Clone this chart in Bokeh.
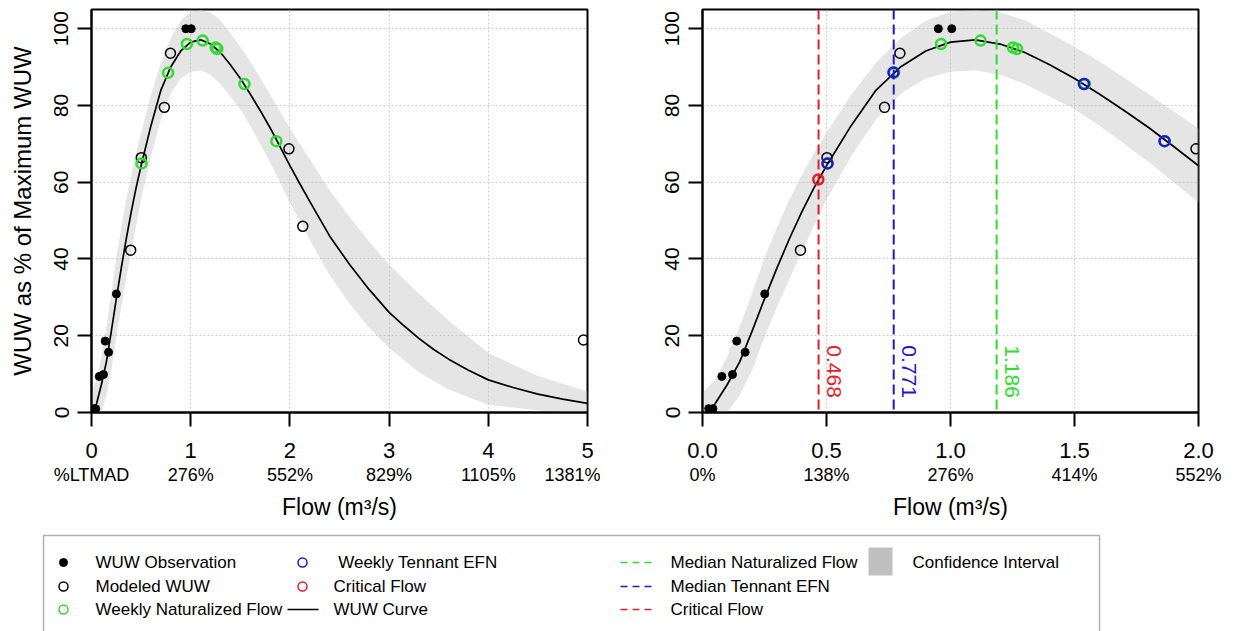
import math
from bokeh.plotting import figure
from bokeh.models import Range1d, LinearAxis, FixedTicker, Span, PrintfTickFormatter
from bokeh.layouts import column, row
from bokeh.embed import file_html
from bokeh.resources import INLINE
from bokeh.core.properties import value

FONT = "Liberation Sans"

# ---------------- data ----------------
# fitted WUW curve
curve_x = [0.02, 0.05, 0.1, 0.15, 0.2, 0.25, 0.3, 0.35, 0.4, 0.45, 0.5, 0.6, 0.7, 0.8, 0.9,
           1.0, 1.1, 1.2, 1.3, 1.4, 1.5, 1.6, 1.7, 1.8, 1.9, 2.0, 2.1, 2.2, 2.4, 2.6, 2.8, 3.0,
           3.15, 3.3, 3.45, 3.6, 3.8, 4.0, 4.25, 4.5, 4.75, 5.0]
curve_y = [0.0, 2.2, 7.3, 13.2, 21.2, 29.6, 37.6, 45.2, 52.2, 58.6, 64.3, 74.8, 84.0, 90.1, 94.2,
           96.5, 97.1, 96.0, 93.8, 90.6, 87.0, 83.0, 78.7, 74.2, 69.3, 64.3, 59.6, 55.0, 46.0, 38.6, 32.0, 26.1,
           22.6, 19.3, 16.4, 13.9, 11.0, 8.5, 6.5, 4.8, 3.5, 2.4]
# confidence interval
band_x = [0.0, 0.02, 0.05, 0.1, 0.15, 0.2, 0.25, 0.3, 0.35, 0.4, 0.45, 0.5, 0.6, 0.7, 0.8, 0.9,
          1.0, 1.1, 1.2, 1.3, 1.4, 1.5, 1.6, 1.7, 1.8, 1.9, 2.0, 2.2, 2.4, 2.6, 2.8, 3.0,
          3.3, 3.6, 4.0, 4.5, 5.0]
band_hi = [5.0, 6.5, 8.5, 14.6, 22.5, 31.0, 40.3, 48.2, 55.4, 61.8, 67.6, 72.9, 82.8, 91.2, 97.6, 102.1,
           104.4, 104.9, 104.2, 102.2, 98.8, 95.3, 91.5, 87.2, 82.9, 78.5, 74.0, 66.0, 58.0, 51.0, 44.5, 38.5,
           31.0, 24.0, 15.5, 9.5, 5.5]
band_lo = [-8.0, -6.5, -4.0, 0.0, 4.5, 11.0, 19.6, 27.4, 34.8, 41.8, 48.6, 55.5, 66.8, 76.4, 83.1, 87.0,
           88.8, 89.2, 88.0, 85.6, 82.3, 79.0, 74.8, 70.0, 65.2, 60.0, 54.7, 45.0, 35.8, 28.4, 22.0, 16.8,
           10.5, 6.0, 2.0, 0.6, -0.5]

# WUW observations (filled black)
obs_x = [0.025, 0.042, 0.078, 0.121, 0.138, 0.172, 0.251, 0.951, 1.005]
obs_y = [1.0, 1.0, 9.4, 9.9, 18.6, 15.7, 30.9, 100.0, 100.0]
# modelled WUW (open black)
mod_x = [0.395, 0.502, 0.734, 0.796, 1.99, 2.13, 4.96]
mod_y = [42.3, 66.4, 79.5, 93.6, 68.7, 48.5, 18.9]
# weekly naturalized flow (green)
nat_x = [0.504, 0.772, 0.962, 1.121, 1.252, 1.268, 1.542, 1.864]
nat_y = [64.9, 88.5, 96.0, 96.9, 95.1, 94.7, 85.6, 70.7]
# weekly Tennant EFN (blue)
ten_x = [0.504, 0.770, 1.538, 1.863]
ten_y = [64.9, 88.6, 85.6, 70.7]
# critical flow point (red)
crit_x = [0.467]
crit_y = [60.7]
# vertical reference flows
median_nat_flow = 1.186
median_tennant = 0.771
critical_flow = 0.468

left_xticks = [0, 1, 2, 3, 4, 5]
left_pct = ["%LTMAD", "276%", "552%", "829%", "1105%", "1381%"]
right_xticks = [0.0, 0.5, 1.0, 1.5, 2.0]
right_pct = ["0%", "138%", "276%", "414%", "552%"]
yticks = [0, 20, 40, 60, 80, 100]

GREEN = "#2fdc2f"
BLUE = "#1a1acc"
RED = "#dd1f2a"
BAND = "#bdbdbd"


def make_panel(xmax, xticks, pct, width, bl, br, ylabel, fmt):
    p = figure(width=width, height=530, x_range=Range1d(0, xmax), y_range=Range1d(0, 105),
               output_backend="svg", toolbar_location=None,
               min_border_left=bl, min_border_right=br, min_border_top=9, min_border_bottom=118)
    p.outline_line_color = "black"
    p.outline_line_width = 2
    p.background_fill_color = "white"
    p.border_fill_color = "white"

    xa = p.xaxis[0]
    xa.ticker = FixedTicker(ticks=xticks)
    xa.formatter = PrintfTickFormatter(format=fmt)
    ya = p.yaxis[0]
    ya.ticker = FixedTicker(ticks=yticks)
    for ax in (xa, ya):
        ax.axis_line_width = 2
        ax.axis_line_color = "black"
        ax.major_tick_line_width = 2
        ax.major_tick_line_color = "black"
        ax.major_tick_out = 14
        ax.major_tick_in = 0
        ax.minor_tick_line_color = None
        ax.major_label_text_font = FONT
        ax.major_label_text_color = "black"
    xa.major_label_text_font_size = "22px"
    ya.major_label_text_font_size = "21px"
    xa.major_label_standoff = 16
    ya.major_label_standoff = 9
    ya.major_label_orientation = "vertical"
    if ylabel:
        ya.axis_label = ylabel
        ya.axis_label_text_font = FONT
        ya.axis_label_text_font_size = "24px"
        ya.axis_label_text_font_style = "normal"
        ya.axis_label_text_color = "black"
        ya.axis_label_standoff = 16

    ax2 = LinearAxis(ticker=FixedTicker(ticks=xticks),
                     major_label_overrides=dict(zip(xticks, pct)),
                     axis_line_color=None, major_tick_line_color=None, minor_tick_line_color=None,
                     major_tick_out=0, major_tick_in=0, major_label_standoff=4,
                     major_label_text_font=FONT, major_label_text_font_size="18px",
                     major_label_text_color="black",
                     axis_label="Flow (m³/s)", axis_label_text_font=FONT,
                     axis_label_text_font_size="23px", axis_label_text_font_style="normal",
                     axis_label_text_color="black", axis_label_standoff=6)
    p.add_layout(ax2, "below")

    p.xgrid.ticker = FixedTicker(ticks=xticks)
    p.ygrid.ticker = FixedTicker(ticks=yticks)
    p.grid.grid_line_color = "#cccccc"
    p.grid.grid_line_dash = "2 2"
    p.grid.grid_line_width = 1

    p.varea(x=band_x, y1=band_lo, y2=band_hi, fill_color=BAND, fill_alpha=0.4)
    p.line(curve_x, curve_y, line_color="black", line_width=1.7)
    return p


# ---------------- left panel ----------------
p1 = make_panel(5, left_xticks, left_pct, 600, 91, 13, "WUW as % of Maximum WUW", "%d")
p1.scatter(obs_x, obs_y, marker="circle", size=8, fill_color="black", line_color="black")
p1.scatter(mod_x, mod_y, marker="circle", size=10, fill_color=None, line_color="black", line_width=1.5)
p1.scatter(nat_x, nat_y, marker="circle", size=10, fill_color=None, line_color=GREEN, line_width=2.5)

# ---------------- right panel ----------------
p2 = make_panel(2, right_xticks, right_pct, 633, 102, 35, None, "%.1f")
for loc, col in ((critical_flow, RED), (median_tennant, BLUE), (median_nat_flow, GREEN)):
    p2.add_layout(Span(location=loc, dimension="height", line_color=col, line_width=2,
                       line_dash="10 5"))
    p2.text(x=[loc], y=[17.5], text=[f"{loc:.3f}"], angle=-math.pi / 2,
            text_align="left", text_baseline="bottom", x_offset=8,
            text_color=col, text_font=value(FONT), text_font_size="21px")
p2.scatter(obs_x, obs_y, marker="circle", size=8, fill_color="black", line_color="black")
p2.scatter(mod_x, mod_y, marker="circle", size=10, fill_color=None, line_color="black", line_width=1.5)
p2.scatter(nat_x, nat_y, marker="circle", size=10, fill_color=None, line_color=GREEN, line_width=2.5)
p2.scatter(ten_x, ten_y, marker="circle", size=10, fill_color=None, line_color=BLUE, line_width=2.5)
p2.scatter(crit_x, crit_y, marker="circle", size=10, fill_color=None, line_color=RED, line_width=2.5)

# ---------------- legend ----------------
leg = figure(width=1233, height=101, x_range=Range1d(0, 1233), y_range=Range1d(631, 530),
             output_backend="svg", toolbar_location=None, x_axis_type=None, y_axis_type=None,
             min_border=0)
leg.grid.visible = False
leg.outline_line_color = None
leg.quad(left=[43], right=[1099], top=[535], bottom=[650], fill_color=None,
         line_color="#b0b0b0", line_width=1.5)
rows = [562, 586, 609]
# column 1
leg.scatter([63], [rows[0]], marker="circle", size=8, fill_color="black", line_color="black")
leg.scatter([63], [rows[1]], marker="circle", size=9, fill_color=None, line_color="black", line_width=1.5)
leg.scatter([63], [rows[2]], marker="circle", size=9, fill_color=None, line_color=GREEN, line_width=1.5)
# column 2
leg.scatter([302], [rows[0]], marker="circle", size=9, fill_color=None, line_color=BLUE, line_width=1.5)
leg.scatter([302], [rows[1]], marker="circle", size=9, fill_color=None, line_color=RED, line_width=1.5)
leg.segment(x0=[287], y0=[rows[2]], x1=[318], y1=[rows[2]], line_color="black", line_width=1.7)
# column 3
for r, col in zip(rows, (GREEN, BLUE, RED)):
    leg.segment(x0=[620], y0=[r], x1=[654], y1=[r], line_color=col, line_width=1.7, line_dash="7 5")
# column 4
leg.quad(left=[868], right=[892], top=[547], bottom=[575], fill_color="#c0c0c0", line_color=None)

leg_text_x = [95, 95, 95, 333, 333, 333, 670, 670, 670, 912]
leg_text_y = [rows[0], rows[1], rows[2], rows[0], rows[1], rows[2], rows[0], rows[1], rows[2], rows[0]]
leg_labels = ["WUW Observation", "Modeled WUW", "Weekly Naturalized Flow",
              "\u00a0Weekly Tennant EFN", "Critical Flow", "WUW Curve",
              "Median Naturalized Flow", "Median Tennant EFN", "Critical Flow",
              "Confidence Interval"]
leg.text(x=leg_text_x, y=leg_text_y, text=leg_labels, text_align="left", text_baseline="middle",
         text_font=value(FONT), text_font_size="17px", text_color="black")

layout = column(row(p1, p2), leg)
open("out.html", "w").write(file_html(layout, INLINE))
